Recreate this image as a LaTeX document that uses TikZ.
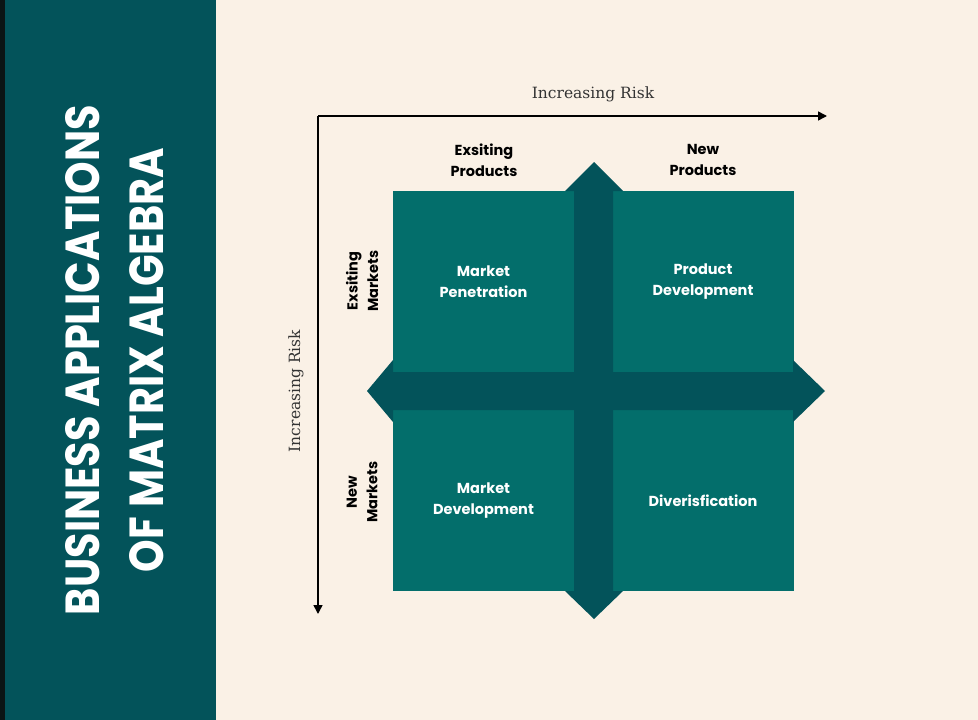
\documentclass[tikz,border=0pt]{standalone}
\usepackage{fontspec}
\setmainfont{DejaVu Serif}
\newfontfamily\labelfont{Poppins}
\usetikzlibrary{arrows.meta}

\definecolor{cream}{HTML}{FAF1E6}
\definecolor{darkteal}{HTML}{03535A}
\definecolor{cellteal}{HTML}{036E6B}
\definecolor{stripblack}{HTML}{0B1414}

\tikzset{
  cell/.style={fill=cellteal, minimum width=181pt, minimum height=181pt,
    inner sep=0pt, text=white, align=center,
    font=\labelfont\bfseries\fontsize{14.5}{21}\selectfont},
  axislabel/.style={font=\fontsize{15.5}{18}\selectfont, text=black!80},
  headlabel/.style={align=center, font=\labelfont\bfseries\fontsize{14.5}{20.5}\selectfont},
  titleline/.style={text=white, rotate=90, inner sep=0pt},
  riskarrow/.style={line width=1.6pt, -{Triangle[length=9pt,width=9pt]}}
}

\begin{document}
\begin{tikzpicture}[x=1pt, y=-1pt]

  % fond et bandeau
  \fill[cream] (0,0) rectangle (978,720);
  \fill[stripblack] (0,0) rectangle (5,720);
  \fill[darkteal] (5,0) rectangle (216,720);

  % titre
  \node[titleline] (title1) at (83,360)
    {\resizebox{510pt}{34pt}{\labelfont\bfseries BUSINESS APPLICATIONS}};
  \node[titleline] (title2) at (147,360)
    {\resizebox{424pt}{34pt}{\labelfont\bfseries OF MATRIX ALGEBRA}};

  % axes
  \coordinate (o) at (318,116);
  \coordinate (xend) at (827,116);
  \coordinate (yend) at (318,614);
  \draw[riskarrow] (o) -- (xend);
  \draw[riskarrow] (o) -- (yend);
  \node[axislabel] (xrisk) at (593,94) {Increasing Risk};
  \node[axislabel, rotate=90] (yrisk) at (296,391) {Increasing Risk};

  % cases
  \node[cell] (pen) at (483.5,281.5) {Market\\Penetration};
  \node[cell] (prod) at (703,281.5) {Product\\Development};
  \node[cell] (mdev) at (483.5,500.5) {Market\\Development};
  \node[cell] (div) at (703,500.5) {Diverisfication};

  % croix
  \fill[darkteal] (574,191) -- (565,191) -- (594,162) -- (623,191) -- (613,191)
    -- (613,591) -- (623,591) -- (594,619) -- (565,591) -- (574,591) -- cycle;
  \fill[darkteal] (393,372) -- (393,360) -- (367,391) -- (393,422) -- (393,410)
    -- (793,410) -- (793,422) -- (825,391) -- (793,360) -- (793,372) -- cycle;

  % en-tetes
  \node[headlabel] (prodold) at (484,160) {Exsiting\\Products};
  \node[headlabel] (prodnew) at (703,160) {New\\Products};
  \node[headlabel, rotate=90] (mktold) at (362,281) {Exsiting\\Markets};
  \node[headlabel, rotate=90] (mktnew) at (362,492) {New\\Markets};

\end{tikzpicture}
\end{document}
